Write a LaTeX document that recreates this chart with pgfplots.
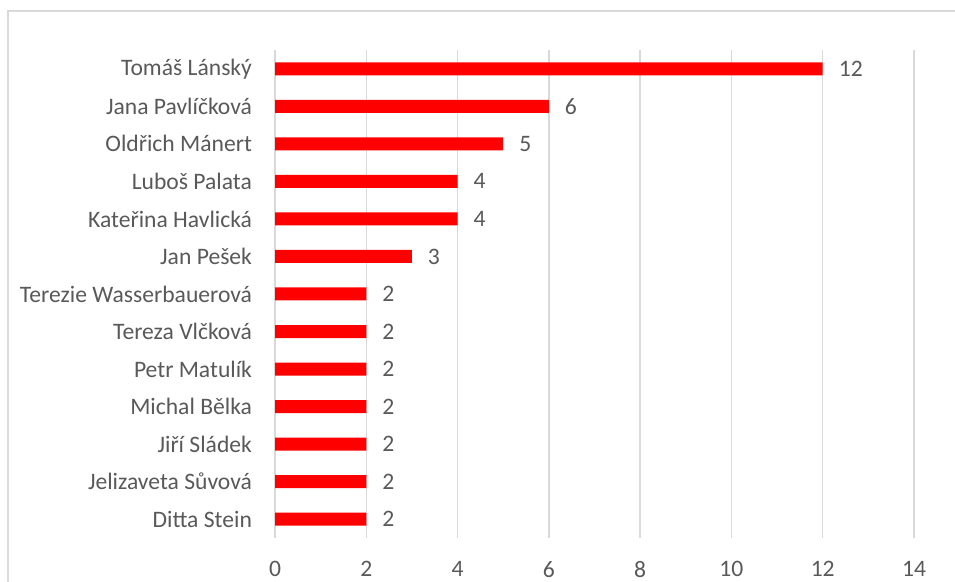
\documentclass[border=0pt]{standalone}
\usepackage{fontspec}
\setmainfont{Carlito}
\usepackage{pgfplots}
\pgfplotsset{compat=1.18}
\definecolor{txt}{HTML}{595959}
\definecolor{grd}{HTML}{D9D9D9}
\begin{document}
\fontsize{23.6}{28}\selectfont
\begin{tikzpicture}[x=1pt,y=1pt]
\path[use as bounding box] (0,0) rectangle (955,581);
\clip (0,0) rectangle (955,581);
\draw[grd, line width=1.5pt] (8,570) rectangle (1000,-20);
\begin{axis}[
  at={(275pt,43pt)}, anchor=south west,
  scale only axis, width=639pt, height=488pt,
  xbar, bar width=13pt,
  xmin=0, xmax=14, ymin=-0.5, ymax=12.5,
  xtick={0,2,...,14}, ytick={0,...,12},
  yticklabels={Ditta Stein, Jelizaveta Sůvová, Jiří Sládek, Michal Bělka, Petr Matulík, Tereza Vlčková, Terezie Wasserbauerová, Jan Pešek, Kateřina Havlická, Luboš Palata, Oldřich Mánert, Jana Pavlíčková, {Tomáš Lánský\ }},
  axis line style={draw=none},
  major tick length=0pt,
  xmajorgrids, grid style={grd, line width=1.3pt},
  tick label style={font=\fontsize{23.6}{28}\selectfont, text=txt},
  xticklabel style={yshift=-15pt},
  yticklabel style={xshift=-15pt},
  /pgf/number format/assume math mode=true,
  nodes near coords,
  nodes near coords style={font=\fontsize{23.6}{28}\selectfont, text=txt, anchor=west, xshift=8pt},
  clip=false,
]
\addplot[fill=red, draw=none] coordinates {
(2,0) (2,1) (2,2) (2,3) (2,4) (2,5) (2,6) (3,7) (4,8) (4,9) (5,10) (6,11) (12,12)
};
\end{axis}
\end{tikzpicture}
\end{document}
